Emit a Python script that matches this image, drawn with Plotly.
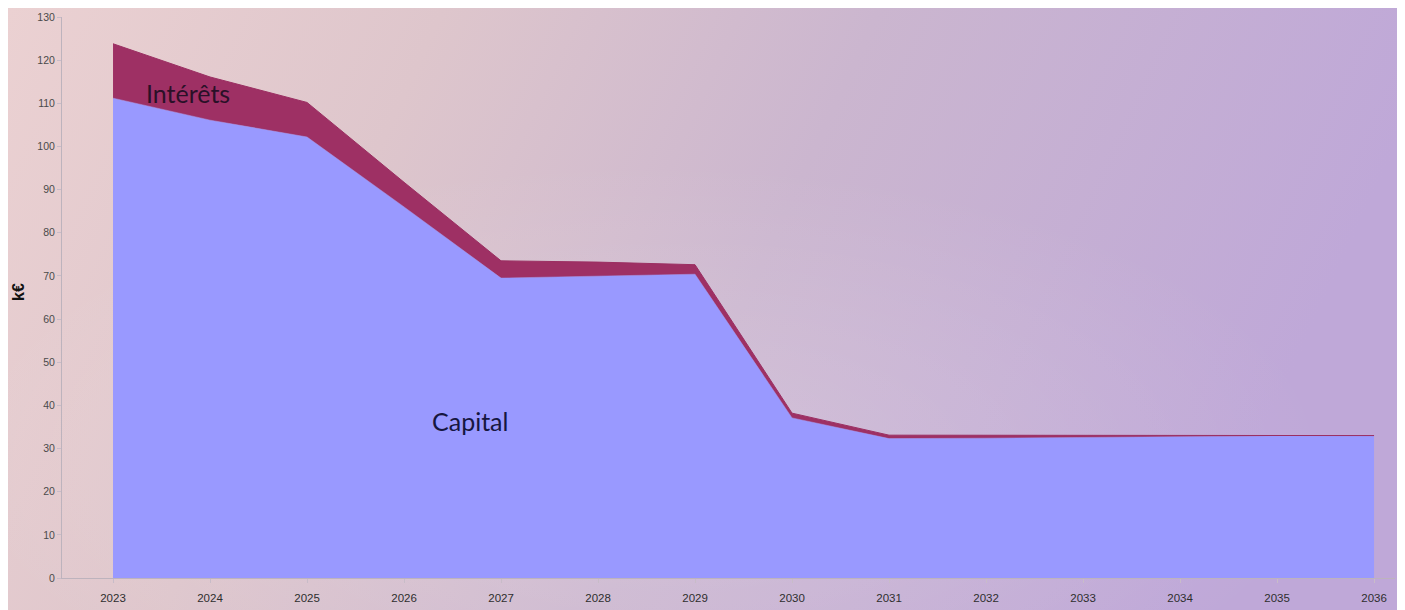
import plotly.graph_objects as go
import base64

years = [2023, 2024, 2025, 2026, 2027, 2028, 2029, 2030, 2031, 2032, 2033, 2034, 2035, 2036]
capital = [111.2, 106.1, 102.2, 86.0, 69.5, 70.0, 70.4, 37.1, 32.3, 32.4, 32.6, 32.8, 32.9, 32.9]
interets = [12.6, 10.0, 8.0, 5.7, 4.0, 3.2, 2.2, 1.1, 0.8, 0.7, 0.5, 0.3, 0.2, 0.1]
y_ticks = list(range(0, 131, 10))

W, H = 1397, 602
ml, mr, mt, mb = 54, 10, 9, 32
pw, ph = W - ml - mr, H - mt - mb

svg = f'''<svg xmlns="http://www.w3.org/2000/svg" width="{W}" height="{H}" viewBox="0 0 {W} {H}" preserveAspectRatio="none">
<defs>
<linearGradient id="g" x1="0" y1="0" x2="1" y2="0.2">
<stop offset="0" stop-color="#ebd1d2"/>
<stop offset="0.3" stop-color="#dec6cc"/>
<stop offset="0.6" stop-color="#cbb6cf"/>
<stop offset="1" stop-color="#bfa8d8"/>
</linearGradient>
<radialGradient id="r" cx="0.45" cy="0.75" r="0.5">
<stop offset="0" stop-color="#ffffff" stop-opacity="0.18"/>
<stop offset="1" stop-color="#ffffff" stop-opacity="0"/>
</radialGradient>
</defs>
<rect width="{W}" height="{H}" fill="url(#g)"/>
<rect width="{W}" height="{H}" fill="url(#r)"/>
</svg>'''
src = "data:image/svg+xml;base64," + base64.b64encode(svg.encode()).decode()

fig = go.Figure()
fig.add_trace(go.Scatter(
    x=years, y=capital, name="Capital", mode="lines", stackgroup="one",
    line=dict(color="#9999ff", width=0.5), fillcolor="#9999ff",
))
fig.add_trace(go.Scatter(
    x=years, y=interets, name="Intérêts", mode="lines", stackgroup="one",
    line=dict(color="#9b2f62", width=1), fillcolor="#9e3064",
))

fig.add_annotation(x=2023.77, y=112.4, text="Intérêts", showarrow=False,
                   font=dict(family="Lato", size=25, color="#2a1028"))
fig.add_annotation(x=2026.68, y=36.4, text="Capital", showarrow=False,
                   font=dict(family="Lato", size=25, color="#161640"))
fig.add_annotation(xref="paper", yref="paper", x=(18 - 8 - ml) / pw, y=(578 - 292) / ph,
                   text="<b>k€</b>", textangle=-90, showarrow=False,
                   xanchor="center", yanchor="middle",
                   font=dict(family="Liberation Sans, Arial", size=16, color="#111"))

fig.add_layout_image(dict(
    source=src, xref="paper", yref="paper",
    x=-ml / pw, y=1 + mt / ph, sizex=W / pw, sizey=H / ph,
    xanchor="left", yanchor="top", sizing="stretch", layer="below",
))

fig.update_layout(
    width=W, height=H,
    margin=dict(l=ml, r=mr, t=mt, b=mb, autoexpand=False),
    paper_bgcolor="rgba(0,0,0,0)", plot_bgcolor="rgba(0,0,0,0)",
    showlegend=False,
    font=dict(family="Liberation Sans, Arial", size=10, color="#444"),
)
fig.update_xaxes(
    range=[2022.474, 2036.216], tickmode="array", tickvals=years,
    ticktext=[str(y) for y in years], showgrid=False, zeroline=False,
    showline=True, linecolor="#bdb3bd", linewidth=1, automargin=False,
    ticks="outside", ticklen=4, tickcolor="#c8bcc8", ticklabelstandoff=5,
    tickfont=dict(size=11.5, color="#2e2e2e"),
)
fig.update_yaxes(
    range=[0, 130], tickmode="array", tickvals=y_ticks, showgrid=False,
    zeroline=False, showline=True, linecolor="#bdb3bd", linewidth=1, automargin=False,
    ticks="outside", ticklen=4, tickcolor="#c8bcc8",
    tickfont=dict(size=10.5, color="#4a4a4a"),
)

fig.write_html("out.html")
